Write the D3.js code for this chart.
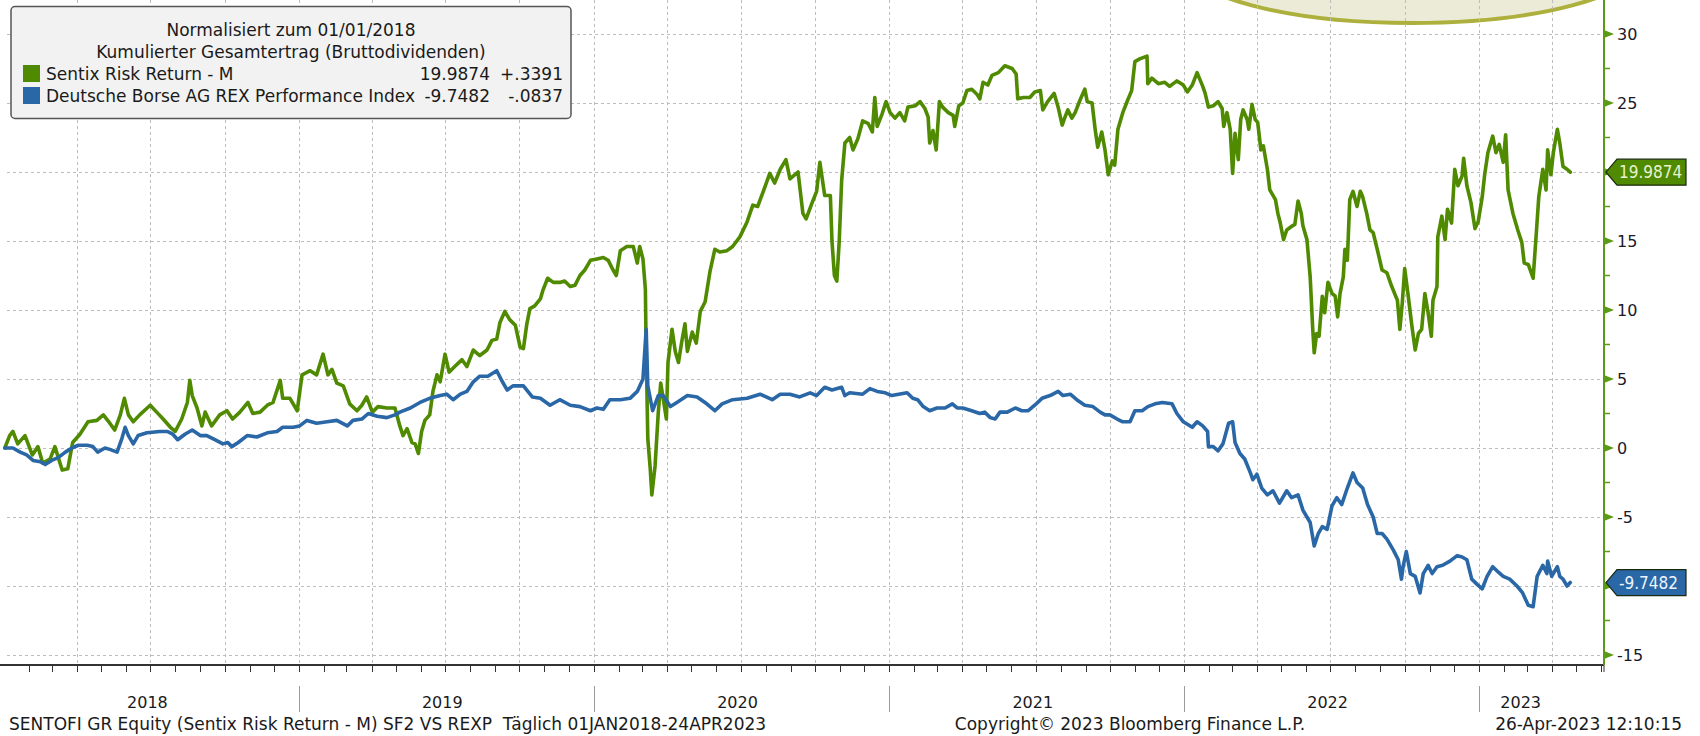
<!DOCTYPE html>
<html>
<head>
<meta charset="utf-8">
<script src="https://cdn.jsdelivr.net/npm/d3@7"></script>
<style>
  body { margin: 0; background: #fff; }
  svg { display: block; font-family: "DejaVu Sans", sans-serif; }
  .cond { font-family: "DejaVu Sans Condensed", "DejaVu Sans", sans-serif; }
</style>
</head>
<body>
<svg id="chart" width="1700" height="736"></svg>
<script>
// Sentix Risk Return vs REX performance, normalised to 01/01/2018 (Bloomberg-style chart).
// Each point: [days since 01 Jan 2018, cumulative total return in %]
const sentix = [
  [1,0],[7,0.9],[11,1.2],[17,0.3],[26,0.9],[35,-0.5],[42,0.1],[48,-1.1],[57,-0.8],[63,0.1],
  [72,-1.6],[79,-1.5],[85,0.4],[94,1.0],[104,1.9],[115,2.0],[123,2.4],[131,1.8],[137,1.3],[144,2.4],
  [149,3.6],[154,2.4],[160,1.9],[168,2.4],[181,3.1],[189,2.6],[197,2.1],[206,1.5],[212,1.2],[220,2.1],
  [227,3.3],[230,4.9],[233,3.8],[239,2.9],[245,1.6],[249,2.6],[257,1.6],[267,2.4],[276,2.7],[283,2.1],
  [292,2.6],[302,3.3],[308,2.5],[317,2.6],[326,3.1],[333,3.3],[342,4.9],[345,3.6],[354,3.6],[363,2.7],
  [369,5.3],[379,5.6],[387,5.3],[395,6.8],[401,5.3],[406,5.7],[412,4.7],[420,4.5],[428,3.2],[437,2.7],
  [443,3.1],[449,3.7],[456,2.6],[463,3.0],[474,2.9],[484,2.9],[490,1.6],[494,0.9],[499,1.4],[505,0.4],
  [509,0.3],[513,-0.4],[517,1.2],[521,2.0],[527,2.4],[531,4.1],[536,5.3],[540,4.8],[546,6.8],[551,5.5],
  [558,5.9],[567,6.4],[573,5.9],[581,7.1],[589,6.7],[598,7.1],[604,7.8],[610,7.9],[614,9.1],[620,9.9],
  [626,9.3],[633,8.9],[639,7.3],[643,7.2],[647,8.9],[651,10.1],[657,10.3],[664,10.8],[667,11.4],[673,12.3],
  [680,12.0],[688,12.0],[694,12.1],[701,11.7],[707,11.8],[713,12.5],[719,12.9],[726,13.6],[734,13.7],[742,13.8],
  [748,13.6],[754,12.9],[758,12.5],[763,14.3],[771,14.6],[779,14.6],[784,13.4],[787,14.6],[791,13.7],[794,11.5],
  [795,7.0],[797,0.7],[800,-1.5],[802,-3.4],[806,-1.3],[810,2.6],[813,4.7],[816,3.6],[820,2.1],[822,6.2],
  [827,8.6],[831,7.0],[835,6.2],[839,7.7],[843,9.0],[846,7.0],[852,8.4],[857,7.6],[862,9.9],[868,10.6],
  [874,12.8],[880,14.4],[886,14.2],[895,14.3],[902,14.6],[911,15.3],[920,16.4],[927,17.6],[933,17.5],[940,18.6],
  [948,19.9],[954,19.2],[961,20.2],[968,20.9],[973,19.5],[983,20.0],[989,17.0],[993,16.6],[1000,17.7],[1006,18.6],
  [1010,20.7],[1016,18.3],[1023,18.3],[1025,15.0],[1028,12.5],[1031,12.1],[1034,15.0],[1037,19.4],[1041,22.1],[1047,22.5],
  [1051,21.6],[1057,22.4],[1063,23.7],[1070,23.5],[1075,22.9],[1078,25.4],[1081,23.3],[1087,24.2],[1092,25.1],[1097,24.3],
  [1103,23.9],[1109,24.3],[1115,23.7],[1119,24.7],[1128,24.8],[1134,25.1],[1140,24.6],[1144,24.0],[1146,22.1],[1150,23.0],
  [1154,21.6],[1158,25.1],[1162,24.7],[1169,24.3],[1175,24.1],[1177,23.3],[1182,24.8],[1187,25.0],[1192,25.9],[1198,26.0],
  [1205,25.6],[1208,25.3],[1212,26.5],[1218,26.3],[1223,27.0],[1231,27.2],[1239,27.7],[1248,27.5],[1253,27.1],[1255,25.3],
  [1262,25.4],[1270,25.4],[1276,25.8],[1283,25.9],[1286,24.5],[1292,25.1],[1300,25.7],[1305,24.7],[1310,23.4],[1313,23.9],
  [1317,24.5],[1322,23.9],[1326,24.3],[1332,25.2],[1338,26.0],[1341,25.1],[1347,25.0],[1351,23.0],[1354,21.8],[1359,22.9],
  [1363,21.6],[1367,19.8],[1372,20.8],[1375,20.5],[1379,23.1],[1385,24.3],[1391,25.2],[1396,25.9],[1400,28.0],[1406,28.2],
  [1415,28.4],[1416,26.4],[1421,26.8],[1429,26.4],[1437,26.5],[1443,26.2],[1452,26.6],[1460,26.3],[1465,25.8],[1471,26.3],
  [1477,27.2],[1484,26.2],[1487,25.7],[1491,24.7],[1497,24.8],[1503,25.1],[1508,24.6],[1510,23.3],[1514,24.3],[1518,23.1],
  [1521,19.9],[1524,22.8],[1528,20.9],[1531,23.8],[1534,24.5],[1539,23.8],[1541,23.1],[1545,24.9],[1549,23.8],[1552,23.6],
  [1556,21.6],[1559,21.9],[1564,20.2],[1567,18.7],[1574,18.0],[1577,17.0],[1580,16.3],[1584,15.1],[1588,15.8],[1595,16.1],
  [1598,16.2],[1602,17.9],[1606,17.0],[1608,16.1],[1613,15.1],[1617,12.4],[1620,8.8],[1622,6.9],[1625,8.3],[1628,8.1],
  [1632,11.0],[1635,9.8],[1639,12.0],[1644,11.2],[1648,11.0],[1651,9.5],[1654,11.2],[1658,12.4],[1660,14.4],[1663,13.6],
  [1666,18.0],[1670,18.6],[1675,17.5],[1679,18.6],[1682,18.2],[1687,17.0],[1691,15.8],[1695,15.6],[1700,14.4],[1706,12.9],
  [1712,12.7],[1718,11.7],[1725,10.7],[1728,8.6],[1731,10.5],[1734,13.0],[1738,11.2],[1743,8.8],[1747,7.1],[1751,8.3],
  [1755,8.6],[1759,11.2],[1763,9.8],[1767,8.1],[1769,10.7],[1774,11.7],[1775,15.3],[1780,16.8],[1784,15.1],[1787,17.3],
  [1792,16.3],[1796,20.2],[1800,19.0],[1805,19.7],[1807,21.0],[1811,19.0],[1816,17.8],[1821,15.9],[1825,16.4],[1830,18.2],
  [1833,19.8],[1837,21.4],[1843,22.6],[1847,21.4],[1851,22.0],[1856,20.7],[1859,22.7],[1862,18.7],[1868,17.0],[1874,15.8],
  [1879,14.9],[1882,13.4],[1887,13.3],[1893,12.3],[1897,15.6],[1900,18.2],[1905,20.2],[1909,18.7],[1911,21.6],[1915,19.8],
  [1918,21.4],[1923,23.1],[1926,22.1],[1930,20.4],[1935,20.2],[1939,19.9874]
];

const rex = [
  [1,0],[11,0],[20,-0.3],[28,-0.5],[36,-0.9],[45,-1.0],[51,-1.2],[59,-0.9],[67,-0.7],[76,-0.3],
  [84,0],[92,0.2],[103,0.2],[110,0.1],[116,-0.3],[125,0],[131,-0.1],[140,-0.3],[146,0.7],[150,1.5],
  [154,0.9],[160,0.3],[166,0.9],[177,1.1],[193,1.2],[202,1.2],[209,1.0],[215,0.6],[224,1.0],[233,1.3],
  [243,0.9],[251,0.9],[261,0.6],[271,0.3],[277,0.4],[282,0.1],[290,0.4],[301,0.9],[313,0.8],[326,1.1],
  [338,1.2],[345,1.5],[358,1.5],[366,1.6],[375,2.0],[387,1.8],[400,1.9],[412,2.0],[425,1.6],[432,2.0],
  [443,2.1],[451,2.5],[462,2.3],[474,2.2],[484,2.4],[490,2.6],[503,2.9],[515,3.3],[527,3.6],[540,3.8],
  [548,3.9],[556,3.5],[565,3.9],[573,4.1],[581,4.8],[589,5.2],[599,5.2],[610,5.6],[617,4.8],[623,4.2],
  [630,4.5],[643,4.5],[654,3.7],[664,3.6],[676,3.1],[688,3.5],[701,3.1],[713,3.0],[726,2.7],[734,2.9],
  [742,2.8],[750,3.5],[763,3.5],[775,3.6],[784,4.1],[791,5.0],[795,8.6],[797,4.5],[803,2.7],[810,3.8],
  [816,3.8],[825,3.0],[833,3.3],[846,3.8],[858,3.7],[870,3.2],[880,2.7],[889,3.2],[902,3.5],[920,3.6],
  [936,3.9],[951,3.5],[961,3.9],[973,3.9],[985,3.7],[998,4.0],[1006,3.8],[1016,4.4],[1025,4.2],[1037,4.4],
  [1041,3.8],[1047,4.0],[1063,3.9],[1072,4.3],[1081,4.1],[1091,4.0],[1099,3.8],[1118,4.0],[1125,3.6],[1131,3.5],
  [1138,3.0],[1146,2.7],[1155,2.9],[1165,2.9],[1174,3.2],[1180,2.9],[1187,2.9],[1198,2.7],[1208,2.5],[1214,2.6],
  [1221,2.2],[1227,2.1],[1233,2.6],[1242,2.6],[1252,2.9],[1260,2.7],[1268,2.7],[1276,3.1],[1285,3.6],[1295,3.8],
  [1305,4.1],[1311,3.8],[1320,3.9],[1328,3.5],[1338,3.1],[1348,3.0],[1357,2.6],[1363,2.4],[1369,2.4],[1378,2.1],
  [1385,1.9],[1394,1.9],[1400,2.7],[1409,2.7],[1416,3.0],[1425,3.2],[1434,3.3],[1446,3.2],[1452,2.5],[1460,1.9],
  [1471,1.5],[1477,1.9],[1484,1.6],[1490,1.2],[1491,0.1],[1497,0.1],[1503,-0.2],[1509,0.3],[1516,1.8],[1521,1.9],
  [1524,0.4],[1530,-0.4],[1536,-0.8],[1543,-1.8],[1546,-2.3],[1551,-1.9],[1557,-2.9],[1564,-3.4],[1571,-3.1],[1579,-4.0],
  [1588,-3.1],[1594,-3.6],[1602,-3.4],[1608,-4.5],[1617,-5.4],[1622,-7.1],[1627,-6.2],[1632,-5.7],[1638,-5.9],[1644,-4.2],
  [1650,-3.6],[1656,-4.1],[1663,-2.9],[1670,-1.8],[1675,-2.5],[1682,-2.9],[1688,-4.1],[1695,-5.0],[1700,-6.2],[1706,-6.2],
  [1712,-6.6],[1720,-7.4],[1726,-8.1],[1730,-9.5],[1732,-8.6],[1736,-7.5],[1741,-9.1],[1747,-9.3],[1753,-10.5],[1757,-9.1],
  [1763,-8.5],[1768,-9.1],[1774,-8.6],[1781,-8.5],[1790,-8.2],[1799,-7.8],[1805,-7.9],[1811,-8.1],[1817,-9.5],[1824,-9.9],
  [1830,-10.2],[1836,-9.3],[1843,-8.6],[1850,-9.0],[1856,-9.3],[1864,-9.5],[1873,-10.0],[1880,-10.5],[1887,-11.4],[1893,-11.5],
  [1898,-9.3],[1905,-8.5],[1910,-9.1],[1911,-8.2],[1916,-9.3],[1923,-8.6],[1926,-9.3],[1930,-9.5],[1935,-10.0],[1939,-9.7482]
];

const seriesNames = ['Sentix Risk Return - M', 'Deutsche Borse AG REX Performance Index'];
const lastValues = [19.9874, -9.7482];
const lastChanges = ['+.3391', '-.0837'];
const legendTitles = ['Normalisiert zum 01/01/2018', 'Kumulierter Gesamtertrag (Bruttodividenden)'];
const yearLabels = ['2018', '2019', '2020', '2021', '2022', '2023'];
const yTicks = [-15, -10, -5, 0, 5, 10, 15, 20, 25, 30];
const footerLeft = 'SENTOFI GR Equity (Sentix Risk Return - M) SF2 VS REXP\u00A0 Täglich 01JAN2018-24APR2023';
const footerMid = 'Copyright\u00A9 2023 Bloomberg Finance L.P.';
const footerRight = '26-Apr-2023 12:10:15';

const GREEN = '#4f8a00', BLUE = '#2a67a6', AXIS_GREEN = '#5b9a14';
const START = new Date(2018, 0, 1);
const toDate = d => d3.timeDay.offset(START, d);
const fmt4 = v => v.toFixed(4);   // plain hyphen minus, like the terminal

const svg = d3.select('#chart');
const plotRight = 1604, axisY = 665;

const x = d3.scaleTime()
  .domain([new Date(2018, 0, 1), new Date(2023, 0, 1)])
  .range([4, 1479]);
const y = d3.scaleLinear().domain([-15, 30]).range([655, 34]);
const xEnd = x.invert(plotRight);
const lastDate = toDate(sentix[sentix.length - 1][0]);

svg.append('rect').attr('width', 1700).attr('height', 736).attr('fill', '#fff');

// decorative ellipse peeking in from the top
svg.append('ellipse')
  .attr('cx', 1412).attr('cy', -38).attr('rx', 228).attr('ry', 61)
  .attr('fill', '#ecebd8').attr('stroke', '#adb03c').attr('stroke-width', 4);

// grid
const grid = svg.append('g').attr('stroke', '#bdbdbd').attr('stroke-dasharray', '3,3').attr('stroke-width', 1);
grid.selectAll('line.h').data(yTicks).join('line')
  .attr('x1', 7).attr('x2', plotRight)
  .attr('y1', d => Math.round(y(d)) + 0.5).attr('y2', d => Math.round(y(d)) + 0.5);
const quarters = d3.timeMonth.every(3).range(new Date(2018, 3, 1), xEnd);
grid.selectAll('line.v').data(quarters).join('line')
  .attr('x1', d => Math.round(x(d)) + 0.5).attr('x2', d => Math.round(x(d)) + 0.5)
  .attr('y1', 0).attr('y2', axisY);

// series
const line = d3.line().x(d => x(toDate(d[0]))).y(d => y(d[1]));
[[sentix, GREEN], [rex, BLUE]].forEach(([data, col]) => {
  svg.append('path').datum(data)
    .attr('d', line)
    .attr('fill', 'none').attr('stroke', col)
    .attr('stroke-width', 3.6).attr('stroke-linejoin', 'round').attr('stroke-linecap', 'round');
});

// bottom axis
svg.append('line').attr('x1', 0).attr('x2', plotRight).attr('y1', axisY).attr('y2', axisY)
  .attr('stroke', '#333').attr('stroke-width', 2);
const months = d3.timeMonth.every(1).range(new Date(2018, 1, 1), xEnd);
svg.append('g').selectAll('line').data(months).join('line')
  .attr('x1', d => Math.round(x(d)) + 0.5).attr('x2', d => Math.round(x(d)) + 0.5)
  .attr('y1', axisY).attr('y2', axisY + 7)
  .attr('stroke', '#333').attr('stroke-width', 1);
svg.append('line').attr('x1', plotRight).attr('x2', plotRight).attr('y1', axisY).attr('y2', axisY + 7)
  .attr('stroke', '#333');

// year dividers and labels
const years = yearLabels.map(s => +s);
svg.append('g').selectAll('line').data(years.slice(1)).join('line')
  .attr('x1', d => Math.round(x(new Date(d, 0, 1))) + 0.5)
  .attr('x2', d => Math.round(x(new Date(d, 0, 1))) + 0.5)
  .attr('y1', 686).attr('y2', 712).attr('stroke', '#9a9a9a');
svg.append('g').selectAll('text').data(yearLabels).join('text')
  .attr('x', s => {
    const a = new Date(+s, 0, 1), b = new Date(+s + 1, 0, 1);
    return (x(a) + x(b < lastDate ? b : lastDate)) / 2 - 4;
  })
  .attr('y', 708).attr('text-anchor', 'middle')
  .attr('font-size', 16).attr('fill', '#1a1a1a').text(s => s);

// right axis
svg.append('line').attr('x1', plotRight).attr('x2', plotRight).attr('y1', 0).attr('y2', axisY)
  .attr('stroke', AXIS_GREEN).attr('stroke-width', 2);
const minor = yTicks.slice(1).map(v => v - 2.5);
svg.append('g').selectAll('line').data(minor).join('line')
  .attr('x1', plotRight).attr('x2', plotRight + 6)
  .attr('y1', d => y(d)).attr('y2', d => y(d))
  .attr('stroke', AXIS_GREEN).attr('stroke-width', 1.5);
const yAxis = svg.append('g');
yAxis.selectAll('path').data(yTicks).join('path')
  .attr('d', d => `M${plotRight},${y(d) - 4}L${plotRight + 10},${y(d)}L${plotRight},${y(d) + 4}Z`)
  .attr('fill', AXIS_GREEN);
// tick labels hidden where a last-value tag sits on top of them
const freeTicks = yTicks.filter(t => lastValues.every(v => Math.abs(y(t) - y(v)) > 16));
yAxis.selectAll('text').data(freeTicks).join('text')
  .attr('x', plotRight + 13).attr('y', d => y(d)).attr('dy', '0.36em')
  .attr('font-size', 16).attr('fill', '#1a1a2a').text(d => d);

// last-value tags on the axis
[[lastValues[0], GREEN, '#e9f3d2'], [lastValues[1], BLUE, '#eef4fb']].forEach(([v, col, txt]) => {
  const yc = y(v);
  svg.append('path')
    .attr('d', `M${plotRight + 2},${yc}L${plotRight + 13},${yc - 13}H1686V${yc + 13}H${plotRight + 13}Z`)
    .attr('fill', col).attr('stroke', '#1b2a10').attr('stroke-width', 1.2);
  svg.append('text').attr('class', 'cond').attr('x', plotRight + 15).attr('y', yc).attr('dy', '0.36em')
    .attr('font-size', 17).attr('fill', txt).text(fmt4(v));
});

// legend
const lg = svg.append('g');
lg.append('rect').attr('x', 11).attr('y', 6.5).attr('width', 560).attr('height', 112).attr('rx', 4)
  .attr('fill', '#f2f2f2').attr('stroke', '#555').attr('stroke-width', 1.5);
lg.selectAll('text.t').data(legendTitles).join('text')
  .attr('x', 291).attr('y', (d, i) => 30 + i * 22).attr('dy', '0.36em')
  .attr('text-anchor', 'middle').attr('font-size', 17).attr('fill', '#1a1a1a').text(d => d);
seriesNames.forEach((name, i) => {
  const yy = 74 + i * 22;
  lg.append('rect').attr('x', 23).attr('y', yy - 9).attr('width', 17).attr('height', 17)
    .attr('fill', i === 0 ? GREEN : BLUE);
  lg.append('text').attr('x', 46).attr('y', yy).attr('dy', '0.36em')
    .attr('font-size', 17).attr('fill', '#1a1a1a').text(name);
  lg.append('text').attr('x', 490).attr('y', yy).attr('dy', '0.36em').attr('text-anchor', 'end')
    .attr('font-size', 17).attr('fill', '#1a1a1a').text(fmt4(lastValues[i]));
  lg.append('text').attr('x', 563).attr('y', yy).attr('dy', '0.36em').attr('text-anchor', 'end')
    .attr('font-size', 17).attr('fill', '#1a1a1a').text(lastChanges[i]);
});

// footer
const ft = svg.append('g').attr('font-size', 17).attr('fill', '#1a1a1a');
ft.append('text').attr('x', 9).attr('y', 730).text(footerLeft);
ft.append('text').attr('x', 1130).attr('y', 730).attr('text-anchor', 'middle').text(footerMid);
ft.append('text').attr('x', 1682).attr('y', 730).attr('text-anchor', 'end').text(footerRight);
</script>
</body>
</html>
